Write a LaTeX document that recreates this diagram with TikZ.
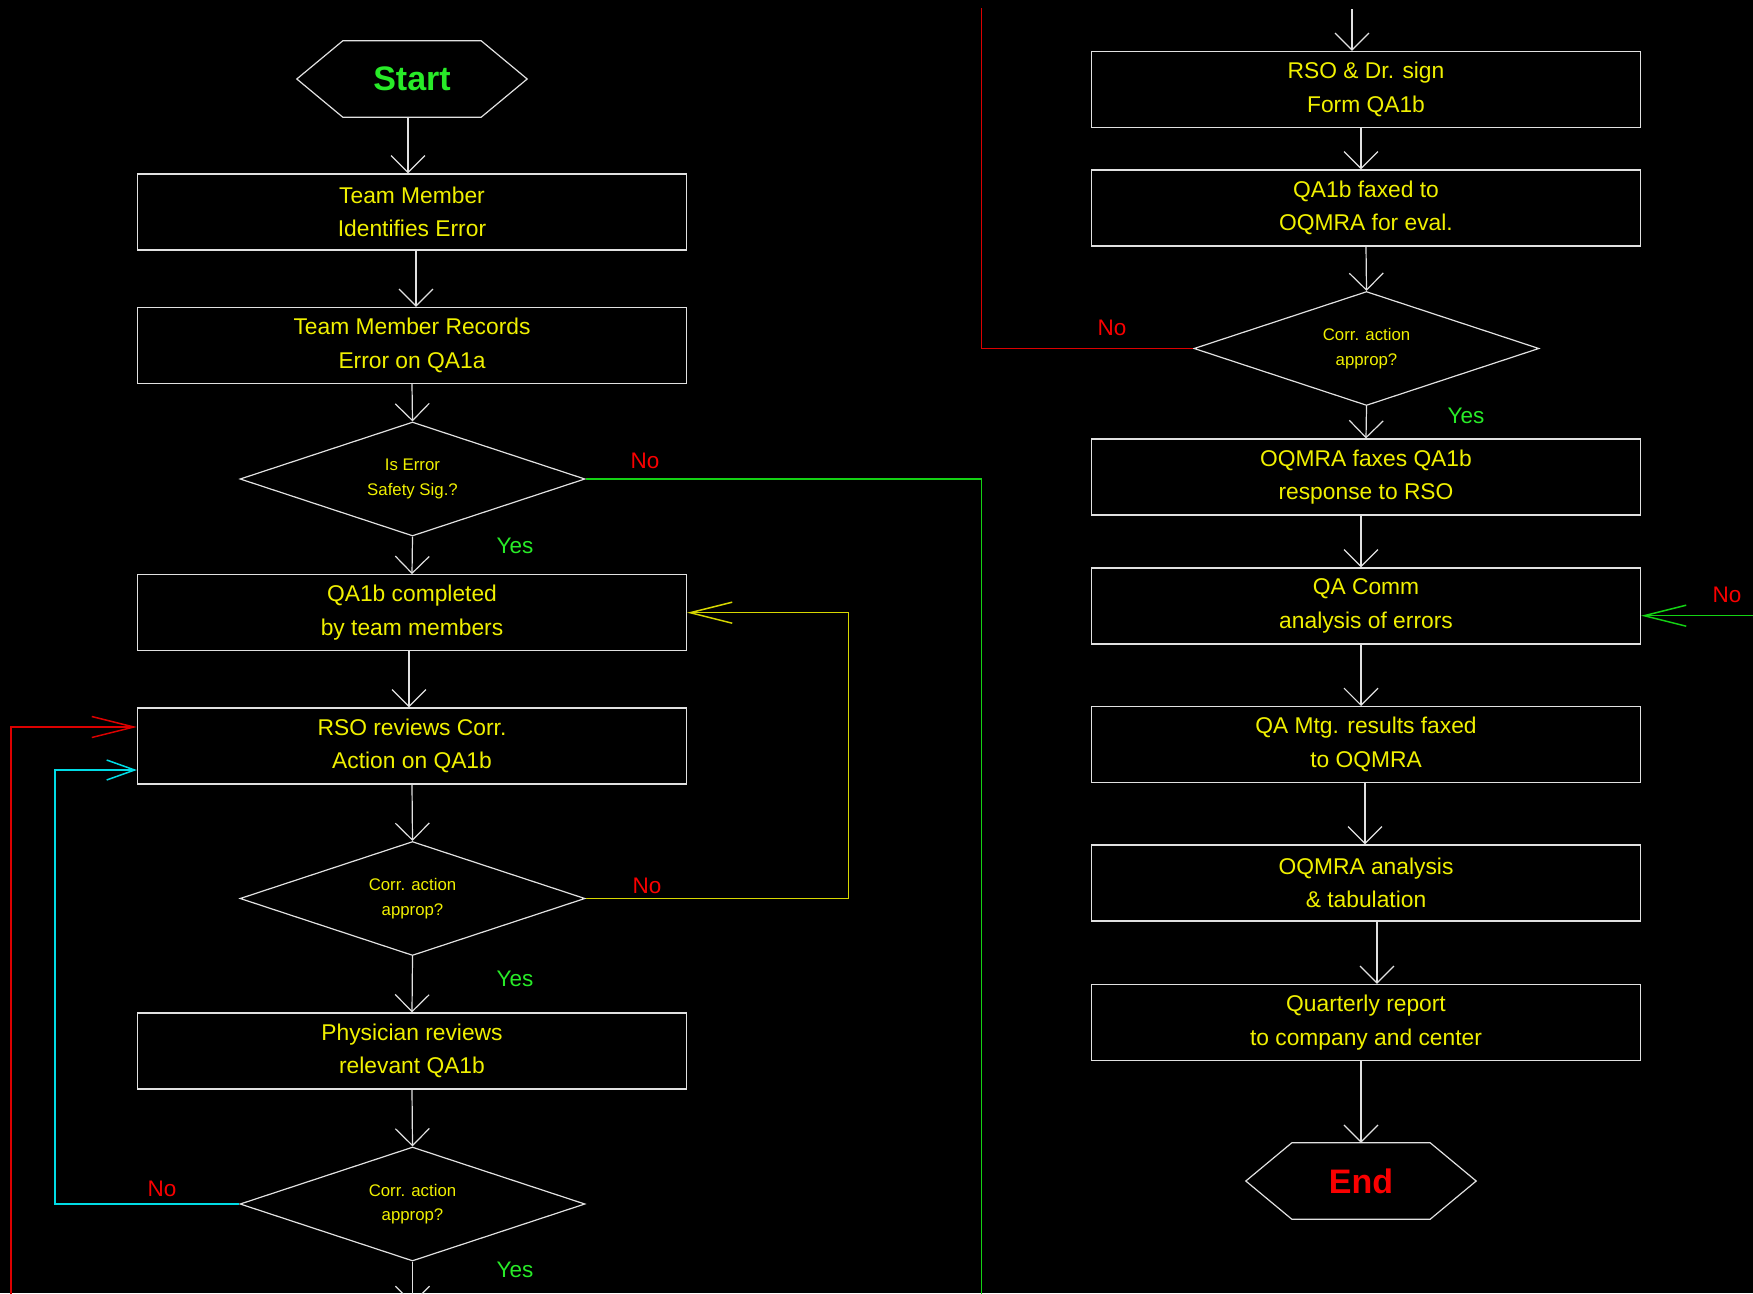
\documentclass[tikz,border=0pt]{standalone}
\usepackage{fontspec}
\setmainfont{Liberation Sans}
\usetikzlibrary{arrows.meta,shapes.geometric,calc}
\definecolor{txtyellow}{RGB}{240,240,0}
\definecolor{txtgreen}{RGB}{40,235,40}
\definecolor{txtred}{RGB}{250,0,0}
\definecolor{linegray}{RGB}{225,225,225}
\definecolor{lnred}{RGB}{220,0,0}
\definecolor{lngreen}{RGB}{20,210,20}
\definecolor{lncyan}{RGB}{0,220,230}
\definecolor{lnyellow}{RGB}{215,215,0}
\tikzset{
  box/.style={draw=linegray, line width=1.2pt, minimum width=549pt, minimum height=76pt,
    inner sep=0pt, align=center, text=txtyellow, font=\fontsize{22.8}{33.5}\selectfont},
  dia/.style={diamond, aspect=3, draw=linegray, line width=1.2pt, minimum width=345pt, minimum height=114pt,
    inner sep=0pt, align=center, text=txtyellow, font=\fontsize{16.8}{24.6}\selectfont},
  term/.style={minimum width=230pt, minimum height=76pt, inner sep=0pt,
    font=\bfseries\fontsize{34}{40}\selectfont},
  arr/.style={draw=linegray, line width=1.2pt, -{Straight Barb[length=17pt,width=34pt]}},
  carr/.style={line width=1.5pt, -{Straight Barb[length=42pt,width=21pt]}},
  cline/.style={line width=1.5pt},
  nolbl/.style={text=txtred, font=\fontsize{22.5}{27}\selectfont},
  yeslbl/.style={text=txtgreen, font=\fontsize{22.5}{27}\selectfont},
  hexa/.style={draw=linegray, line width=1.2pt}
}
\begin{document}
\begin{tikzpicture}[x=1pt,y=-1pt]
\useasboundingbox[fill=black] (0,0) rectangle (1753,1293);
\clip (0,0) rectangle (1753,1293);

% left column
\node[term, text=txtgreen] (start) at (412,79) {Start};
\draw[hexa] (start.west) -- ([xshift=46pt]start.north west) -- ([xshift=-46pt]start.north east)
  -- (start.east) -- ([xshift=-46pt]start.south east) -- ([xshift=46pt]start.south west) -- cycle;
\node[box] (b1) at (412,212) {Team Member\\Identifies Error};
\node[box] (b2) at (412,345.5) {Team Member Records\\Error on QA1a};
\node[dia] (d1) at (412.5,479) {Is Error\\Safety Sig.?};
\node[box] (b3) at (412,612.7) {QA1b completed\\by team members};
\node[box] (b4) at (412,746) {RSO reviews Corr.\\Action on QA1b};
\node[dia] (d2) at (412.5,898.5) {Corr. action\\approp?};
\node[box] (b5) at (412,1051) {Physician reviews\\relevant QA1b};
\node[dia] (d3) at (412.5,1204) {Corr. action\\approp?};

% right column
\node[box] (r1) at (1366,89.5) {RSO \& Dr. sign\\Form QA1b};
\node[box] (r2) at (1366,208) {QA1b faxed to\\OQMRA for eval.};
\node[dia] (dr) at (1366.5,348.5) {Corr. action\\approp?};
\node[box] (r3) at (1366,477) {OQMRA faxes QA1b\\response to RSO};
\node[box] (r4) at (1366,606) {QA Comm\\analysis of errors};
\node[box] (r5) at (1366,744.6) {QA Mtg. results faxed\\to OQMRA};
\node[box] (r6) at (1366,883) {OQMRA analysis\\\& tabulation};
\node[box] (r7) at (1366,1022.5) {Quarterly report\\to company and center};
\node[term, text=txtred] (end) at (1361,1181) {End};
\draw[hexa] (end.west) -- ([xshift=46pt]end.north west) -- ([xshift=-46pt]end.north east)
  -- (end.east) -- ([xshift=-46pt]end.south east) -- ([xshift=46pt]end.south west) -- cycle;

% free ends
\coordinate (topin) at (1352,9);
\coordinate (botout) at (412.5,1304);
\coordinate (gcorner) at (981.6,479);
\coordinate (gbottom) at (981.6,1300);
\coordinate (rcorner) at (981.6,348.5);
\coordinate (rtop) at (981.6,8);
\coordinate (lred) at (11,1300);
\coordinate (cyc) at (54.8,1204);
\coordinate (ycorner) at (848.6,898.5);
\coordinate (gright) at (1760,615.7);

% main vertical arrows
\draw[arr] ([xshift=-4pt]start.south) -- ([xshift=-4pt]b1.north);
\draw[arr] ([xshift=4pt]b1.south) -- ([xshift=4pt]b2.north);
\draw[arr] (b2.south) -- (d1.north);
\draw[arr] (d1.south) -- (b3.north);
\draw[arr] ([xshift=-3pt]b3.south) -- ([xshift=-3pt]b4.north);
\draw[arr] (b4.south) -- (d2.north);
\draw[arr] (d2.south) -- (b5.north);
\draw[arr] (b5.south) -- (d3.north);
\draw[arr] (d3.south) -- (botout);

\draw[arr] (topin) -- (topin |- r1.north);
\draw[arr] ([xshift=-5pt]r1.south) -- ([xshift=-5pt]r2.north);
\draw[arr] (r2.south) -- (dr.north);
\draw[arr] (dr.south) -- (r3.north);
\draw[arr] ([xshift=-5pt]r3.south) -- ([xshift=-5pt]r4.north);
\draw[arr] ([xshift=-5pt]r4.south) -- ([xshift=-5pt]r5.north);
\draw[arr] ([xshift=-1pt]r5.south) -- ([xshift=-1pt]r6.north);
\draw[arr] ([xshift=11pt]r6.south) -- ([xshift=11pt]r7.north);
\draw[arr] ([xshift=-5pt]r7.south) -- (end.north);

% coloured connectors
\draw[cline, lngreen] (d1.east) -- (gcorner) -- (gbottom);
\draw[cline, lnred] (dr.west) -- (rcorner) -- (rtop);
\draw[carr, lnred] (lred) |- ([yshift=19pt]b4.west);
\draw[cline, lncyan, -{Straight Barb[length=28pt,width=20pt]}] (d3.west) -- (cyc) |- ([yshift=-24pt]b4.west);
\draw[carr, lnyellow] (d2.east) -- (ycorner) |- (b3.east);
\draw[carr, lngreen] (gright) -- ([yshift=-9.7pt]r4.east);

% labels
\node[nolbl] (no1) at (645,461) {No};
\node[yeslbl] (yes1) at (515,545.6) {Yes};
\node[nolbl] (no2) at (647,885.5) {No};
\node[yeslbl] (yes2) at (515,979) {Yes};
\node[nolbl] (no3) at (162,1189) {No};
\node[yeslbl] (yes3) at (515,1270) {Yes};
\node[nolbl] (no4) at (1112,328) {No};
\node[yeslbl] (yes4) at (1466,416) {Yes};
\node[nolbl] (no5) at (1727,595) {No};
\end{tikzpicture}
\end{document}
